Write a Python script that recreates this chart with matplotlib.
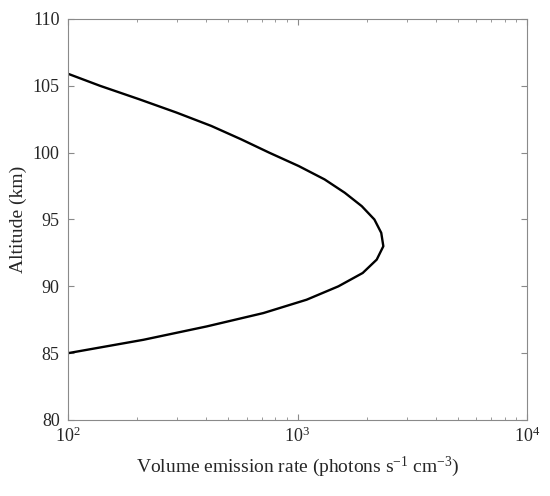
import numpy as np
import matplotlib
matplotlib.use("Agg")
import matplotlib.pyplot as plt
from matplotlib.ticker import LogLocator

altitude_km = [85, 86, 87, 88, 89, 90, 91, 92, 93, 94, 95, 96, 97, 98, 99, 100, 101, 102, 103, 104, 105, 106]
ver = [100, 213, 402, 710, 1096, 1507, 1924, 2214, 2366, 2317, 2163, 1905, 1607, 1312, 1012, 753, 568, 421, 297, 204, 138, 96.6]

xticks = [1e2, 1e3, 1e4]
xtick_labels = [r"$10^{2}$", r"$10^{3}$", r"$10^{4}$"]
yticks = [80, 85, 90, 95, 100, 105, 110]

plt.rcParams['font.family'] = ['Liberation Serif', 'DejaVu Serif']
plt.rcParams['mathtext.fontset'] = 'custom'
plt.rcParams['mathtext.rm'] = 'Liberation Serif'
plt.rcParams['mathtext.it'] = 'Liberation Serif:italic'

fig = plt.figure(figsize=(5.5, 4.96), dpi=100)
ax = fig.add_axes([68/550, 1-420/496, (527-68)/550, (420-19)/496])

ax.plot(ver, altitude_km, color='black', linewidth=1.7)
ax.set_xscale('log')
ax.set_xlim(1e2, 1e4)
ax.set_ylim(80, 110)
ax.set_xticks(xticks)
ax.set_xticklabels(xtick_labels)
ax.set_yticks(yticks)
ax.xaxis.set_minor_locator(LogLocator(base=10, subs=np.arange(2, 10)))

grey = '#8a8a8a'
for s in ax.spines.values():
    s.set_color(grey)
    s.set_linewidth(0.8)
ax.tick_params(which='both', direction='in', top=True, right=True, colors=grey, labelcolor='#262626', labelsize=13)
ax.tick_params(which='major', length=4)
ax.tick_params(which='minor', length=2)
ax.tick_params(axis='x', pad=5)
ax.tick_params(axis='y', pad=6)

ax.set_xlabel(r"Volume emission rate (photons s$^{-1}$ cm$^{-3}$)", fontsize=14, color='#262626', labelpad=6)
ax.set_ylabel("Altitude (km)", fontsize=14, color='#262626', labelpad=4)

fig.savefig("out.png", dpi=100)
